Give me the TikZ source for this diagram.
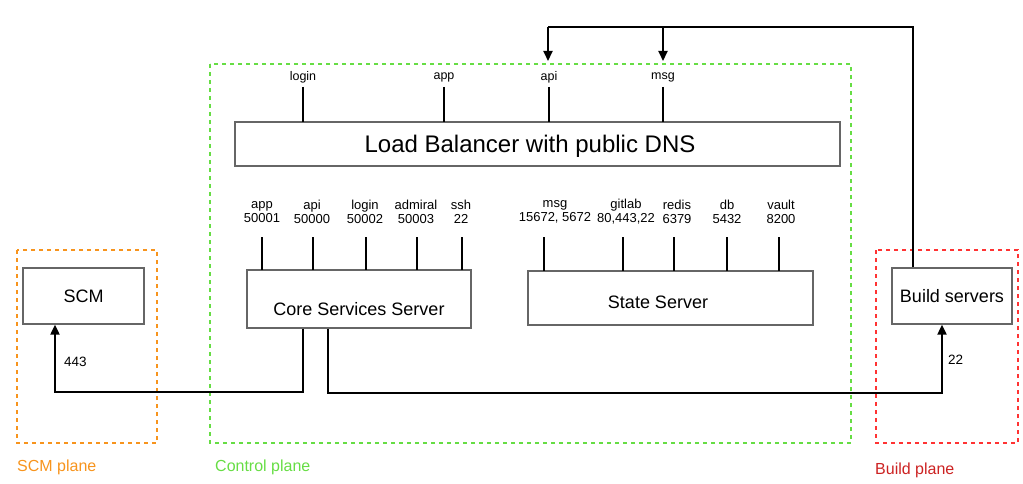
\documentclass[tikz,border=0pt]{standalone}
\usepackage{fontspec}
\setmainfont{Liberation Sans}
\usetikzlibrary{arrows.meta}
\definecolor{scmorange}{HTML}{F7941D}
\definecolor{ctlgreen}{HTML}{66DD44}
\definecolor{bldred}{HTML}{FF3333}
\definecolor{bldtext}{HTML}{CC2222}
\definecolor{boxgray}{HTML}{666666}
\tikzset{
  plane/.style={dashed, line width=1.6pt, dash pattern=on 4pt off 4pt},
  server/.style={draw=boxgray, line width=1.3pt, fill=white, inner sep=0pt},
  port/.style={font=\fontsize{13}{14}\selectfont, align=center, inner sep=0pt},
  toplbl/.style={font=\fontsize{12.5}{14}\selectfont, inner sep=0pt},
  boxtext/.style={font=\fontsize{18}{20}\selectfont},
  stub/.style={line width=1.6pt, black},
  conn/.style={line width=2pt, black},
  tip/.style={-{Triangle[length=10pt,width=9pt]}},
  planelabel/.style={font=\fontsize{16}{18}\selectfont, anchor=west, inner sep=0pt},
  numlbl/.style={font=\fontsize{13.5}{15}\selectfont, anchor=west, inner sep=0pt},
}
\begin{document}
\begin{tikzpicture}[x=1pt,y=-1pt]
\useasboundingbox (0,0) rectangle (1023,484);
% planes
\draw[plane, scmorange] (17,250) rectangle (157,443);
\draw[plane, ctlgreen] (210,64) rectangle (851,443);
\draw[plane, bldred] (876,250) rectangle (1018,443);
\node[planelabel, text=scmorange] (scmlbl) at (17,467) {SCM plane};
\node[planelabel, text=ctlgreen] (ctllbl) at (215,467) {Control plane};
\node[planelabel, text=bldtext] (bldlbl) at (875,470) {Build plane};
% boxes
\node[server, minimum width=121pt, minimum height=56pt, boxtext] (scm) at (83.5,296) {SCM};
\node[server, minimum width=120pt, minimum height=56pt, boxtext] (build) at (952,296) {Build servers};
\node[server, minimum width=605pt, minimum height=44pt] (lb) at (537.5,144) {};
\node[font=\fontsize{24}{26}\selectfont] (lbtxt) at (530,146) {Load Balancer with public DNS};
\node[server, minimum width=224pt, minimum height=58pt] (core) at (359,299) {};
\node[boxtext] (coretxt) at (359,309) {Core Services Server};
\node[server, minimum width=285pt, minimum height=54pt] (state) at (670.5,298) {};
\node[boxtext] (statetxt) at (658,302) {State Server};
% LB ports
\foreach \nm/\x/\t in {lblogin/303/login, lbapp/444/app, lbapi/549/api, lbmsg/663/msg}{
  \node[toplbl] (\nm) at (\x,77) {\t};
  \draw[stub] (\x,87) -- (\x,122);
}
% core ports
\foreach \nm/\x/\lx/\t in {capp/262/262/{app\\50001}, capi/313/312/{api\\50000}, clogin/366/365/{login\\50002}, cadm/417/416/{admiral\\50003}, cssh/462/461/{ssh\\22}}{
  \node[port] (\nm) at (\lx,212) {\t};
  \draw[stub] (\x,237) -- (\x,270);
}
% state ports
\foreach \nm/\x/\lx/\t in {smsg/544/555/{msg\\15672, 5672}, sgit/623/626/{gitlab\\80,443,22}, sred/674/677/{redis\\6379}, sdb/727/727/{db\\5432}, svault/779/781/{vault\\8200}}{
  \node[port] (\nm) at (\lx,212) {\t};
  \draw[stub] (\x,237) -- (\x,271);
}
% connectors
\coordinate (top) at (913,27);
\draw[conn] (build.north -| top) -- (top) -- (548,27);
\draw[conn, tip] (548,27) -- (548,61);
\draw[conn, tip] (663,27) -- (663,61);
\draw[conn, tip] (core.south -| 303,0) -- (303,392) -- (55,392) -- (scm.south -| 55,0);
\draw[conn, tip] (core.south -| 328,0) -- (328,393) -- (942,393) -- (build.south -| 942,0);
\node[numlbl] (l443) at (64,362) {443};
\node[numlbl] (l22) at (948,360) {22};
\end{tikzpicture}
\end{document}
